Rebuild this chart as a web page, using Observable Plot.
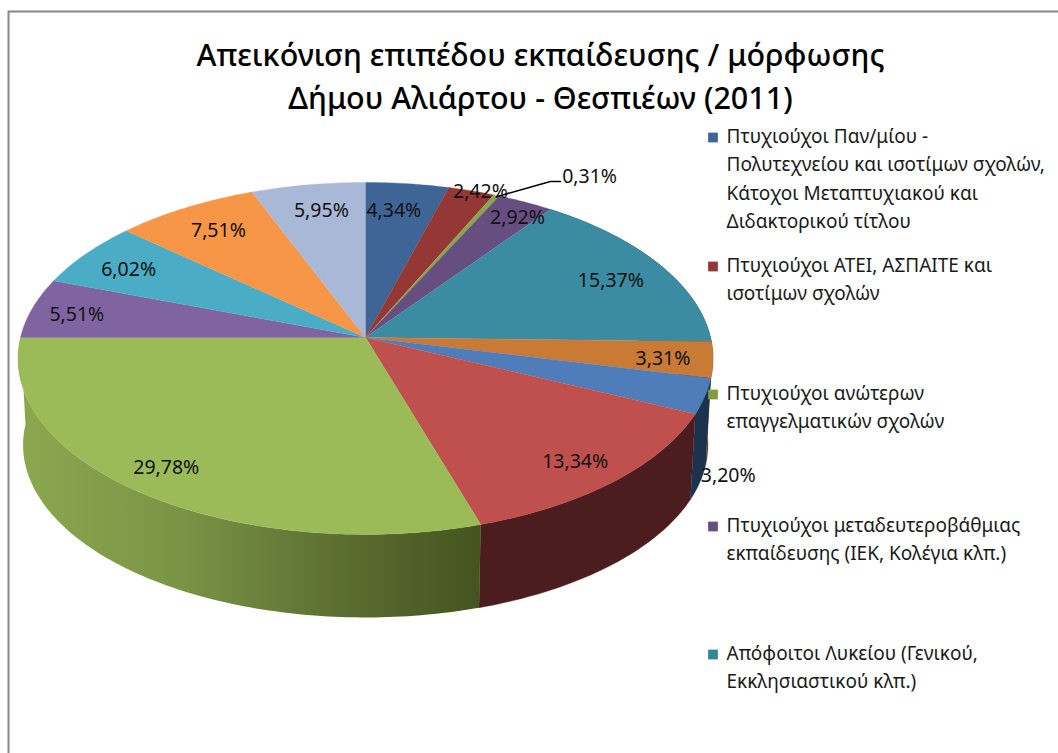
<!DOCTYPE html>
<html>
<head>
<meta charset="utf-8">
<script src="https://cdn.jsdelivr.net/npm/d3@7"></script>
<script src="https://cdn.jsdelivr.net/npm/@observablehq/plot@0.6"></script>
<style>
html,body{margin:0;padding:0;background:#fff;}
svg{display:block;}
</style>
</head>
<body>
<div id="chart"></div>
<script>
// ---- data ----
const titleLines = ["Απεικόνιση επιπέδου εκπαίδευσης / μόρφωσης", "Δήμου Αλιάρτου - Θεσπιέων (2011)"];
const shares = [4.34, 2.42, 0.31, 2.92, 15.37, 3.31, 3.20, 13.34, 29.78, 5.51, 6.02, 7.51, 5.95];
const shareLabels = ["4,34%","2,42%","0,31%","2,92%","15,37%","3,31%","3,20%","13,34%","29,78%","5,51%","6,02%","7,51%","5,95%"];
const legendLabels = [
  "Πτυχιούχοι Παν/μίου -\nΠολυτεχνείου και ισοτίμων σχολών,\nΚάτοχοι Μεταπτυχιακού και\nΔιδακτορικού τίτλου",
  "Πτυχιούχοι ΑΤΕΙ, ΑΣΠΑΙΤΕ και\nισοτίμων σχολών",
  "Πτυχιούχοι ανώτερων\nεπαγγελματικών σχολών",
  "Πτυχιούχοι μεταδευτεροβάθμιας\nεκπαίδευσης (ΙΕΚ, Κολέγια κλπ.)",
  "Απόφοιτοι Λυκείου (Γενικού,\nΕκκλησιαστικού κλπ.)"
];
// ---- styles ----
const topColors = ["#3e6596","#953735","#8aa64a","#664f80","#3b8ba3","#c97a35","#4e7dba","#c0504d","#9bbb59","#8064a2","#4bacc6","#f79646","#a9b8d6"];
const wallColors = ["#1f3350","#4d1e1e","#46551f","#33274a","#1d4655","#6a3d18","#1c324f","#4c1d1e","url(#greenWall)","#40325a","#265663","#7c4b23","#55607a"];
const legendColors = ["#3e6596","#953735","#7f9c41","#66507f","#31859c"];
// ---- layout (pie plane: u to the right, v toward viewer, unit radius) ----
const labelU = [0.09,0.37,0.73,0.48,0.74,0.85,0.96,0.56,-0.53,-0.85,-0.72,-0.46,-0.14];
const labelV = [-0.80,-0.93,-1.04,-0.75,-0.34,0.12,0.73,0.66,0.69,-0.135,-0.41,-0.665,-0.80];
const leaderU = [0.4235, 0.60, 0.633];
const leaderV = [-0.90, -1.007, -1.007];
const legendY = [137, 266, 394, 526, 654];
const lineGap = 28.5;
const visibleWalls = [4, 5, 6, 7, 8];

const pie = {cx: 365, cy: 337, rx: 345, ry: 173.5, k: 0.119};
const base = {cx: 365, cy: 424, rx: 340, ry: 170, k: 0.119};
const project = (p, u, v) => {
  const d = 1 - p.k * v;
  return {x: p.cx + p.rx * u / d, y: p.cy + p.ry * v / d};
};
const onRim = (p, a) => project(p, Math.sin(a), -Math.cos(a));
const total = d3.sum(shares);
const edges = [0, ...d3.cumsum(shares)].map(c => c / total * 2 * Math.PI);
const arc = (p, a0, a1) => {
  const n = Math.max(2, Math.ceil((a1 - a0) / (Math.PI / 180)));
  return d3.range(n + 1).map(i => onRim(p, a0 + (a1 - a0) * i / n));
};
const facePolys = shares.map((_, i) => [{x: pie.cx, y: pie.cy}, ...arc(pie, edges[i], edges[i + 1])]);
const wallPolys = visibleWalls.map(i => ({
  fill: wallColors[i],
  pts: [...arc(pie, edges[i], edges[i + 1]), ...arc(base, edges[i], edges[i + 1]).reverse()]
}));

const poly = (pts, fill) => Plot.line(pts, {x: "x", y: "y", fill, stroke: fill.startsWith("url") ? "none" : fill, strokeWidth: 0.4, curve: "linear"});
const textFont = "'Noto Sans', sans-serif";

const defs = () => {
  const d = d3.create("svg:defs");
  const g = d.append("linearGradient").attr("id", "greenWall");
  [[0, "#8ba84f"], [0.35, "#7a9446"], [0.7, "#5b6e31"], [1, "#44541f"]].forEach(([o, c]) =>
    g.append("stop").attr("offset", o).attr("stop-color", c));
  return d.node();
};

const labels = shareLabels.map((t, i) => ({t, ...project(pie, labelU[i], labelV[i])}));
const leader = leaderU.map((u, i) => project(pie, u, leaderV[i]));
const legendRows = legendLabels.map((t, i) => ({t, y: legendY[i], c: legendColors[i]}));

const chart = Plot.plot({
  width: 1058, height: 753, margin: 0,
  x: {domain: [0, 1058], axis: null},
  y: {domain: [0, 753], reverse: true, axis: null},
  style: {background: "#fff", fontFamily: textFont},
  marks: [
    defs,
    Plot.ruleX([8], {y1: 11, y2: 753, stroke: "#868686", strokeWidth: 2}),
    Plot.ruleY([11], {x1: 8, x2: 1058, stroke: "#868686", strokeWidth: 2}),
    ...wallPolys.map(w => poly(w.pts, w.fill)),
    ...facePolys.map((p, i) => poly(p, topColors[i])),
    Plot.line(leader, {x: "x", y: "y", stroke: "#000", strokeWidth: 1.6}),
    Plot.text(labels, {x: "x", y: "y", text: "t", fontSize: 19.5, fill: "#111"}),
    Plot.text(titleLines, {x: () => 540, y: (d, i) => [56, 99][i], text: d => d, fontSize: 30.5, fontWeight: 500, fill: "#000"}),
    Plot.dot(legendRows, {x: () => 712.5, y: "y", r: 5.5, symbol: "square", fill: "c", stroke: "none"}),
    Plot.text(legendRows, {x: () => 726, y: d => d.y - 15, text: "t", textAnchor: "start", lineAnchor: "top", fontSize: 19, lineHeight: lineGap / 19, fill: "#1a1a1a"})
  ],
  color: {type: "identity"}
});
document.getElementById("chart").append(chart);
</script>
</body>
</html>
